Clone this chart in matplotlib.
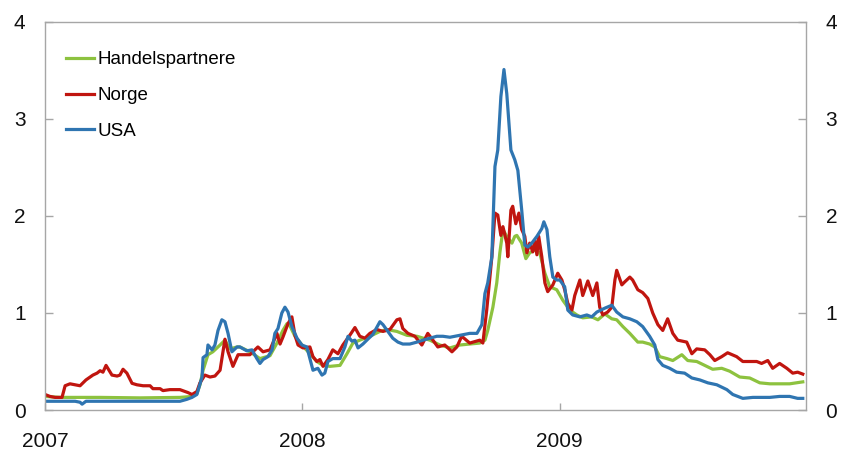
import matplotlib
matplotlib.use("Agg")
import matplotlib.pyplot as plt

# time in decimal years, values in percentage points
hp_t = [2007.000, 2007.058, 2007.214, 2007.369, 2007.524, 2007.571, 2007.590, 2007.602, 2007.614,
        2007.633, 2007.652, 2007.680, 2007.699, 2007.718, 2007.746, 2007.757, 2007.796, 2007.835,
        2007.874, 2007.901, 2007.924, 2007.940, 2007.951, 2007.971, 2007.998, 2008.029, 2008.056,
        2008.080, 2008.107, 2008.146, 2008.173, 2008.196, 2008.223, 2008.262, 2008.301, 2008.328,
        2008.367, 2008.406, 2008.445, 2008.495, 2008.534, 2008.573, 2008.612, 2008.650, 2008.689,
        2008.709, 2008.720, 2008.740, 2008.755, 2008.767, 2008.779, 2008.794, 2008.814, 2008.825,
        2008.833, 2008.852, 2008.868, 2008.883, 2008.903, 2008.922, 2008.942, 2008.961, 2008.988,
        2009.012, 2009.039, 2009.066, 2009.089, 2009.124, 2009.148, 2009.175, 2009.202, 2009.221,
        2009.245, 2009.272, 2009.303, 2009.322, 2009.349, 2009.369, 2009.388, 2009.416, 2009.439,
        2009.474, 2009.497, 2009.532, 2009.563, 2009.594, 2009.629, 2009.660, 2009.699, 2009.738,
        2009.777, 2009.816, 2009.893, 2009.944]
hp_v = [0.14, 0.13, 0.13, 0.125, 0.13, 0.14, 0.17, 0.26, 0.41,
        0.57, 0.60, 0.67, 0.72, 0.63, 0.65, 0.65, 0.60, 0.53,
        0.56, 0.69, 0.82, 0.89, 0.87, 0.76, 0.67, 0.58, 0.50,
        0.46, 0.45, 0.46, 0.58, 0.69, 0.72, 0.76, 0.81, 0.83,
        0.81, 0.77, 0.76, 0.72, 0.67, 0.64, 0.67, 0.68, 0.69,
        0.72, 0.82, 1.06, 1.31, 1.62, 1.86, 1.79, 1.72, 1.79,
        1.80, 1.72, 1.56, 1.62, 1.65, 1.62, 1.41, 1.27, 1.24,
        1.13, 1.03, 0.98, 0.95, 0.96, 0.93, 0.99, 0.94, 0.93,
        0.86, 0.79, 0.70, 0.70, 0.68, 0.65, 0.55, 0.53, 0.51,
        0.57, 0.51, 0.50, 0.46, 0.42, 0.43, 0.40, 0.34, 0.33,
        0.28, 0.27, 0.27, 0.29]

no_t = [2007.000, 2007.019, 2007.039, 2007.066, 2007.078, 2007.097, 2007.136, 2007.159, 2007.186,
        2007.202, 2007.214, 2007.225, 2007.237, 2007.260, 2007.280, 2007.291, 2007.303, 2007.318,
        2007.338, 2007.357, 2007.381, 2007.408, 2007.419, 2007.447, 2007.458, 2007.485, 2007.524,
        2007.555, 2007.571, 2007.590, 2007.602, 2007.621, 2007.641, 2007.660, 2007.680, 2007.699,
        2007.711, 2007.730, 2007.750, 2007.796, 2007.827, 2007.847, 2007.874, 2007.901, 2007.913,
        2007.924, 2007.944, 2007.959, 2007.971, 2007.983, 2008.002, 2008.029, 2008.041, 2008.056,
        2008.068, 2008.080, 2008.099, 2008.118, 2008.138, 2008.157, 2008.184, 2008.204, 2008.223,
        2008.243, 2008.262, 2008.289, 2008.313, 2008.340, 2008.367, 2008.379, 2008.390, 2008.410,
        2008.437, 2008.464, 2008.487, 2008.507, 2008.526, 2008.553, 2008.581, 2008.600, 2008.619,
        2008.650, 2008.689, 2008.701, 2008.716, 2008.736, 2008.748, 2008.759, 2008.771, 2008.779,
        2008.794, 2008.798, 2008.810, 2008.817, 2008.829, 2008.841, 2008.852, 2008.864, 2008.872,
        2008.883, 2008.895, 2008.903, 2008.911, 2008.918, 2008.930, 2008.942, 2008.953, 2008.973,
        2008.992, 2009.008, 2009.019, 2009.031, 2009.047, 2009.058, 2009.078, 2009.089, 2009.109,
        2009.128, 2009.144, 2009.155, 2009.167, 2009.186, 2009.202, 2009.214, 2009.221, 2009.241,
        2009.252, 2009.272, 2009.283, 2009.303, 2009.322, 2009.342, 2009.361, 2009.381, 2009.400,
        2009.419, 2009.439, 2009.458, 2009.493, 2009.513, 2009.532, 2009.563, 2009.583, 2009.602,
        2009.629, 2009.652, 2009.687, 2009.711, 2009.765, 2009.784, 2009.808, 2009.827, 2009.854,
        2009.882, 2009.905, 2009.924, 2009.944]
no_v = [0.16, 0.14, 0.13, 0.13, 0.25, 0.27, 0.25, 0.31, 0.36,
        0.38, 0.405, 0.39, 0.46, 0.36, 0.35, 0.36, 0.42, 0.38,
        0.275, 0.26, 0.25, 0.25, 0.22, 0.22, 0.20, 0.21, 0.21,
        0.18, 0.16, 0.19, 0.28, 0.36, 0.34, 0.35, 0.41, 0.73,
        0.60, 0.45, 0.57, 0.57, 0.65, 0.60, 0.62, 0.79, 0.68,
        0.75, 0.89, 0.96, 0.77, 0.67, 0.64, 0.65, 0.55, 0.50,
        0.52, 0.45, 0.52, 0.62, 0.58, 0.67, 0.77, 0.85, 0.76,
        0.74, 0.79, 0.83, 0.81, 0.83, 0.93, 0.94, 0.84, 0.79,
        0.76, 0.67, 0.79, 0.72, 0.65, 0.67, 0.60, 0.65, 0.76,
        0.69, 0.72, 0.69, 1.03, 1.58, 2.03, 2.01, 1.80, 1.89,
        1.72, 1.58, 2.06, 2.10, 1.92, 2.03, 1.86, 1.79, 1.62,
        1.72, 1.63, 1.75, 1.60, 1.79, 1.58, 1.31, 1.22, 1.29,
        1.41, 1.34, 1.24, 1.10, 1.03, 1.18, 1.34, 1.18, 1.33,
        1.18, 1.31, 1.06, 0.98, 1.01, 1.06, 1.34, 1.44, 1.29,
        1.32, 1.37, 1.34, 1.24, 1.21, 1.15, 1.00, 0.88, 0.82,
        0.94, 0.79, 0.72, 0.70, 0.58, 0.63, 0.62, 0.57, 0.51,
        0.55, 0.59, 0.55, 0.50, 0.50, 0.48, 0.51, 0.43, 0.48,
        0.43, 0.38, 0.39, 0.37]

us_t = [2007.000, 2007.058, 2007.117, 2007.136, 2007.144, 2007.159, 2007.214, 2007.330, 2007.447,
        2007.524, 2007.551, 2007.571, 2007.590, 2007.610, 2007.614, 2007.629, 2007.633, 2007.649,
        2007.660, 2007.672, 2007.687, 2007.699, 2007.711, 2007.726, 2007.746, 2007.757, 2007.784,
        2007.804, 2007.823, 2007.835, 2007.847, 2007.866, 2007.882, 2007.893, 2007.905, 2007.920,
        2007.932, 2007.944, 2007.959, 2007.979, 2007.998, 2008.017, 2008.029, 2008.041, 2008.060,
        2008.076, 2008.087, 2008.099, 2008.118, 2008.146, 2008.165, 2008.177, 2008.192, 2008.204,
        2008.216, 2008.235, 2008.254, 2008.274, 2008.301, 2008.313, 2008.332, 2008.351, 2008.371,
        2008.390, 2008.417, 2008.445, 2008.468, 2008.495, 2008.522, 2008.546, 2008.573, 2008.612,
        2008.650, 2008.678, 2008.697, 2008.709, 2008.720, 2008.736, 2008.748, 2008.759, 2008.771,
        2008.783, 2008.794, 2008.810, 2008.825, 2008.837, 2008.852, 2008.864, 2008.876, 2008.891,
        2008.911, 2008.930, 2008.938, 2008.950, 2008.961, 2008.973, 2008.988, 2009.000, 2009.019,
        2009.031, 2009.050, 2009.078, 2009.105, 2009.124, 2009.144, 2009.175, 2009.202, 2009.221,
        2009.245, 2009.272, 2009.299, 2009.322, 2009.349, 2009.369, 2009.381, 2009.400, 2009.427,
        2009.454, 2009.485, 2009.513, 2009.544, 2009.575, 2009.610, 2009.649, 2009.672, 2009.711,
        2009.750, 2009.816, 2009.854, 2009.893, 2009.924, 2009.944]
us_v = [0.09, 0.09, 0.09, 0.08, 0.06, 0.09, 0.09, 0.09, 0.09,
        0.09, 0.11, 0.13, 0.16, 0.34, 0.54, 0.57, 0.67, 0.62,
        0.67, 0.82, 0.93, 0.91, 0.79, 0.60, 0.65, 0.65, 0.61,
        0.62, 0.53, 0.48, 0.52, 0.55, 0.62, 0.79, 0.84, 1.00,
        1.06, 1.01, 0.86, 0.74, 0.67, 0.65, 0.53, 0.41, 0.43,
        0.36, 0.38, 0.50, 0.53, 0.53, 0.65, 0.76, 0.71, 0.72,
        0.64, 0.68, 0.73, 0.78, 0.91, 0.88, 0.81, 0.74, 0.70,
        0.68, 0.68, 0.70, 0.72, 0.74, 0.76, 0.76, 0.75, 0.77,
        0.79, 0.79, 0.88, 1.20, 1.31, 1.58, 2.51, 2.68, 3.23,
        3.51, 3.26, 2.68, 2.58, 2.47, 2.06, 1.70, 1.68, 1.72,
        1.79, 1.87, 1.94, 1.86, 1.58, 1.37, 1.34, 1.34, 1.27,
        1.03, 0.98, 0.96, 0.98, 0.96, 1.01, 1.05, 1.08, 1.01,
        0.96, 0.94, 0.91, 0.86, 0.76, 0.67, 0.52, 0.46, 0.43,
        0.39, 0.38, 0.33, 0.31, 0.28, 0.26, 0.21, 0.16, 0.12,
        0.13, 0.13, 0.14, 0.14, 0.12, 0.12]

series = [
    ("Handelspartnere", hp_t, hp_v, "#8DC23F"),
    ("Norge", no_t, no_v, "#C0150F"),
    ("USA", us_t, us_v, "#2F75B1"),
]
years = [2007, 2008, 2009]
yticks = [0, 1, 2, 3, 4]

plt.rcParams["font.family"] = ["Liberation Sans", "DejaVu Sans"]

fig = plt.figure(figsize=(8.45, 4.58), dpi=100)
ax = fig.add_axes([0.0533, 0.1048, 0.9007, 0.8472])

for name, t, v, col in series:
    ax.plot(t, v, color=col, lw=2.3, label=name, solid_joinstyle="round")

ax.set_xlim(2007.0, 2009.957)
ax.set_ylim(0, 4)
ax.set_xticks(years)
ax.set_xticklabels([str(y) for y in years])
ax.set_yticks(yticks)

spine_col = "#A6A6A6"
for s in ax.spines.values():
    s.set_color(spine_col)
    s.set_linewidth(1.0)

ax.tick_params(axis="y", which="both", direction="in", length=6, width=1.0, color=spine_col,
               labelsize=15, pad=14, left=True, right=True, labelleft=True, labelright=True,
               labelcolor="#111111")
ax.tick_params(axis="x", direction="in", length=5, width=1.0, color=spine_col,
               labelsize=15, pad=16, labelcolor="#111111")

leg = ax.legend(loc="upper left", bbox_to_anchor=(0.027, 0.925), frameon=False,
                fontsize=13.5, handlelength=1.5, handletextpad=0.2, labelspacing=1.0,
                borderpad=0, borderaxespad=0)
for line in leg.get_lines():
    line.set_linewidth(2.3)

fig.savefig("out.png", dpi=100)
